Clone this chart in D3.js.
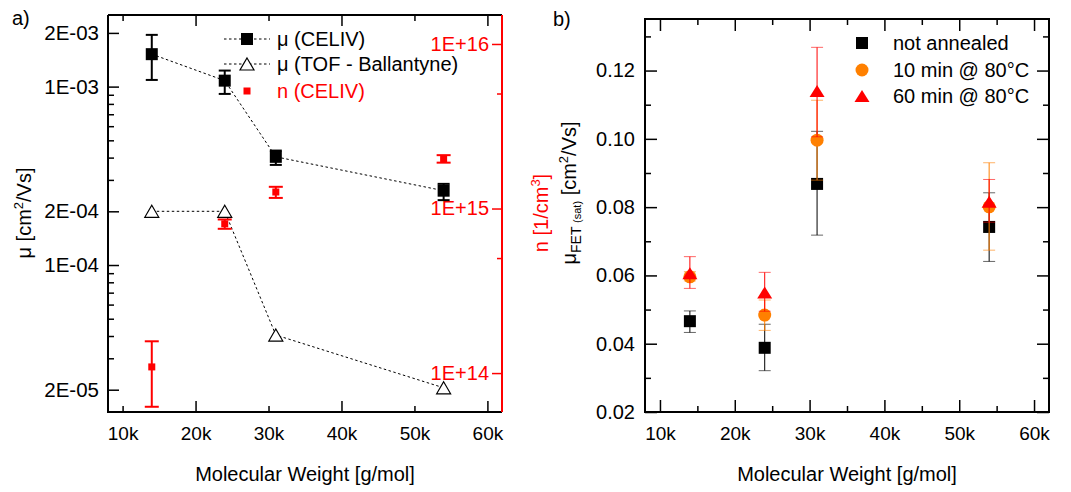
<!DOCTYPE html>
<html>
<head>
<meta charset="utf-8">
<script src="https://cdn.jsdelivr.net/npm/d3@7"></script>
<style>
  body { margin: 0; background: #fff; }
  svg { font-family: "Liberation Sans", Arial, sans-serif; }
</style>
</head>
<body>
<div id="chart"></div>
<script>
// ---- data ----
// panel a)
const mw = [14000, 24000, 31000, 54000];
const muCeliv   = [1.52e-3, 1.08e-3, 4.04e-4, 2.61e-4];
const muCelivLo = [1.09e-3, 9.1e-4, 3.64e-4, 2.31e-4];
const muCelivHi = [1.95e-3, 1.23e-3, 4.38e-4, 2.85e-4];
const muTof = [2.0e-4, 2.0e-4, 4.05e-5, 2.05e-5];
const nCeliv   = [1.09e14, 8.07e14, 1.26e15, 2.0e15];
const nCelivLo = [6.24e13, 7.53e14, 1.16e15, 1.9e15];
const nCelivHi = [1.56e14, 8.58e14, 1.355e15, 2.11e15];
const muTicks = [2e-5, 1e-4, 2e-4, 1e-3, 2e-3];
const muTickLabels = ["2E-05", "1E-04", "2E-04", "1E-03", "2E-03"];
const nTicks = [1e14, 1e15, 1e16];
const nTickLabels = ["1E+14", "1E+15", "1E+16"];
// panel b)
const fetNot   = [0.0466, 0.0388, 0.0868, 0.0742];
const fetNotLo = [0.0433, 0.0321, 0.0718, 0.0641];
const fetNotHi = [0.0496, 0.0457, 0.1022, 0.0842];
const fet10   = [0.0596, 0.0484, 0.0996, 0.0801];
const fet10Lo = [0.0584, 0.0439, 0.0879, 0.0674];
const fet10Hi = [0.0611, 0.0528, 0.1113, 0.0930];
const fet60   = [0.0606, 0.0550, 0.1140, 0.0816];
const fet60Lo = [0.0562, 0.0495, 0.1006, 0.0756];
const fet60Hi = [0.0655, 0.0609, 0.1268, 0.0881];
const fetTicks = [0.02, 0.04, 0.06, 0.08, 0.10, 0.12];
const mwTicks = [10000, 20000, 30000, 40000, 50000, 60000];
const mwTickLabels = ["10k", "20k", "30k", "40k", "50k", "60k"];

const RED = "#ff0000", ORANGE = "#ff8000";

const svg = d3.select("#chart").append("svg")
  .attr("width", 1071).attr("height", 492);

// helper: axis of tick marks only
function ticksOnly(g, axis) {
  g.call(axis);
  g.select(".domain").remove();
  g.selectAll("text").remove();
  return g;
}
function styleAxis(g, color, size) {
  g.select(".domain").remove();
  g.selectAll("line").attr("stroke", color).attr("stroke-width", 1.5);
  g.selectAll("text").attr("fill", color).style("font-size", size || "19px");
}

// ================= panel a) =================
const xA = d3.scaleLinear().domain([8000, 62000]).range([108, 502]);
const yMu = d3.scaleLog().domain([1.5e-5, 2.52e-3]).range([412, 15]);
const yN = d3.scaleLog().domain([5.8e13, 1.5e16]).range([412, 15]);
const top1 = 15, bot1 = 412;

// minor tick values for log axes
const muMinor = [];
[-5, -4, -3].forEach(e => { for (let k = 1; k < 10; k++) { const v = k * Math.pow(10, e); if (v >= 1.5e-5 && v <= 2.52e-3 && !muTicks.includes(+v.toPrecision(3))) muMinor.push(v); } });

// x axis bottom: labels + long ticks at 20/40/60k, short at 10/30/50k
const gxA = svg.append("g").attr("transform", `translate(0,${bot1})`)
  .call(d3.axisBottom(xA).tickValues(mwTicks).tickSize(0).tickPadding(15)
    .tickFormat((d, i) => mwTickLabels[i]));
styleAxis(gxA, "#000");
[[-11, [20000, 40000, 60000]], [-6, [10000, 30000, 50000]]].forEach(([s, v]) => {
  ticksOnly(svg.append("g").attr("transform", `translate(0,${bot1})`),
    d3.axisBottom(xA).tickValues(v).tickSize(s)).selectAll("line").attr("stroke-width", 1.5);
  ticksOnly(svg.append("g").attr("transform", `translate(0,${top1})`),
    d3.axisTop(xA).tickValues(v).tickSize(s)).selectAll("line").attr("stroke-width", 1.5);
});

// left y axis (mu)
const gyA = svg.append("g").attr("transform", "translate(108,0)")
  .call(d3.axisLeft(yMu).tickValues(muTicks).tickSize(-11).tickPadding(9)
    .tickFormat((d, i) => muTickLabels[i]));
styleAxis(gyA, "#000", "20.5px");
ticksOnly(svg.append("g").attr("transform", "translate(108,0)"),
  d3.axisLeft(yMu).tickValues(muMinor).tickSize(-6)).selectAll("line").attr("stroke-width", 1.5);

// right y axis (n), red
const gyN = svg.append("g").attr("transform", "translate(502,0)")
  .call(d3.axisRight(yN).tickValues(nTicks).tickSize(-10)
    .tickFormat((d, i) => nTickLabels[i]));
styleAxis(gyN, RED, "20px");
gyN.selectAll("text").attr("x", -13).attr("text-anchor", "end");
ticksOnly(svg.append("g").attr("transform", "translate(502,0)"),
  d3.axisRight(yN).tickValues([5e14, 5e15]).tickSize(-5)).selectAll("line").attr("stroke", RED).attr("stroke-width", 1.5);

// frame
svg.append("path").attr("d", `M108,${top1}H502`).attr("stroke", "#000").attr("stroke-width", 2).attr("fill", "none");
svg.append("path").attr("d", `M108,${top1}V${bot1}H502`).attr("stroke", "#000").attr("stroke-width", 2).attr("fill", "none");
svg.append("path").attr("d", `M502,${top1}V${bot1}`).attr("stroke", RED).attr("stroke-width", 2).attr("fill", "none");

// dotted connecting lines
const lineMu = d3.line().x((d, i) => xA(mw[i])).y(d => yMu(d));
svg.append("path").attr("d", lineMu(muCeliv)).attr("fill", "none")
  .attr("stroke", "#000").attr("stroke-width", 1).attr("stroke-dasharray", "2.5,2.5");
svg.append("path").attr("d", lineMu(muTof)).attr("fill", "none")
  .attr("stroke", "#000").attr("stroke-width", 1).attr("stroke-dasharray", "2.5,2.5");

function errorBars(g, xs, lo, hi, xScale, yScale, color, width, cap, capOpacity) {
  xs.forEach((xv, i) => {
    const x = xScale(xv), y1 = yScale(lo[i]), y2 = yScale(hi[i]);
    g.append("line").attr("x1", x).attr("x2", x).attr("y1", y1).attr("y2", y2)
      .attr("stroke", color).attr("stroke-width", width);
    [y1, y2].forEach(y => g.append("line").attr("x1", x - cap / 2).attr("x2", x + cap / 2)
      .attr("y1", y).attr("y2", y).attr("stroke", color).attr("stroke-width", width)
      .attr("stroke-opacity", capOpacity));
  });
}
function triPath(w, h) { return `M0,${-h / 2}L${w / 2},${h / 2}L${-w / 2},${h / 2}Z`; }

const gA = svg.append("g");
// n (CELIV) red
errorBars(gA, mw, nCelivLo, nCelivHi, xA, yN, RED, 2, 14, 1);
gA.selectAll(".nsq").data(nCeliv).enter().append("rect")
  .attr("x", (d, i) => xA(mw[i]) - 3.5).attr("y", d => yN(d) - 3.5)
  .attr("width", 7).attr("height", 7).attr("fill", RED);
// mu CELIV
errorBars(gA, mw, muCelivLo, muCelivHi, xA, yMu, "#000", 2, 12, 1);
gA.selectAll(".musq").data(muCeliv).enter().append("rect")
  .attr("x", (d, i) => xA(mw[i]) - 6).attr("y", d => yMu(d) - 6)
  .attr("width", 12).attr("height", 12).attr("fill", "#000");
// mu TOF
gA.selectAll(".tof").data(muTof).enter().append("path")
  .attr("d", triPath(14, 12))
  .attr("transform", (d, i) => `translate(${xA(mw[i])},${yMu(d)})`)
  .attr("fill", "#fff").attr("stroke", "#000").attr("stroke-width", 1.2);

// legend a)
const legA = svg.append("g").style("font-size", "20px");
[39, 64].forEach(y => legA.append("line").attr("x1", 224).attr("x2", 270).attr("y1", y).attr("y2", y)
  .attr("stroke", "#000").attr("stroke-dasharray", "2.5,2.5"));
legA.append("rect").attr("x", 241).attr("y", 33).attr("width", 12).attr("height", 12).attr("fill", "#000");
legA.append("path").attr("d", triPath(14, 12)).attr("transform", "translate(247,64)")
  .attr("fill", "#fff").attr("stroke", "#000").attr("stroke-width", 1.2);
legA.append("rect").attr("x", 243.5).attr("y", 87.5).attr("width", 7).attr("height", 7).attr("fill", RED);
legA.append("text").attr("x", 277).attr("y", 39).attr("dy", "0.35em").text("μ (CELIV)");
legA.append("text").attr("x", 277).attr("y", 64).attr("dy", "0.35em").text("μ (TOF - Ballantyne)");
legA.append("text").attr("x", 277).attr("y", 91).attr("dy", "0.35em").attr("fill", RED).text("n (CELIV)");

// titles a)
svg.append("text").attr("x", 12).attr("y", 25).style("font-size", "20px").text("a)");
svg.append("text").attr("x", 305).attr("y", 481).attr("text-anchor", "middle")
  .style("font-size", "20px").text("Molecular Weight [g/mol]");
const tMu = svg.append("text").attr("transform", "translate(31,213) rotate(-90)")
  .attr("text-anchor", "middle").style("font-size", "20px");
tMu.append("tspan").text("μ [cm");
tMu.append("tspan").attr("dy", -8).style("font-size", "13px").text("2");
tMu.append("tspan").attr("dy", 8).text("/Vs]");
const tN = svg.append("text").attr("transform", "translate(548,213) rotate(-90)")
  .attr("text-anchor", "middle").attr("fill", RED).style("font-size", "20px");
tN.append("tspan").text("n [1/cm");
tN.append("tspan").attr("dy", -8).style("font-size", "13px").text("3");
tN.append("tspan").attr("dy", 8).text("]");

// ================= panel b) =================
const xB = d3.scaleLinear().domain([8000, 62000]).range([645, 1049]);
const yB = d3.scaleLinear().domain([0.02, 0.1351]).range([412, 19]);
const top2 = 19, bot2 = 412;
const xMinorB = [15000, 25000, 35000, 45000, 55000];
const yMinorB = [0.03, 0.05, 0.07, 0.09, 0.11, 0.13];

const gxB = svg.append("g").attr("transform", `translate(0,${bot2})`)
  .call(d3.axisBottom(xB).tickValues(mwTicks).tickSize(-12).tickPadding(15)
    .tickFormat((d, i) => mwTickLabels[i]));
styleAxis(gxB, "#000");
ticksOnly(svg.append("g").attr("transform", `translate(0,${bot2})`),
  d3.axisBottom(xB).tickValues(xMinorB).tickSize(-6)).selectAll("line").attr("stroke-width", 1.5);
ticksOnly(svg.append("g").attr("transform", `translate(0,${top2})`),
  d3.axisTop(xB).tickValues(mwTicks).tickSize(-12)).selectAll("line").attr("stroke-width", 1.5);
ticksOnly(svg.append("g").attr("transform", `translate(0,${top2})`),
  d3.axisTop(xB).tickValues(xMinorB).tickSize(-6)).selectAll("line").attr("stroke-width", 1.5);

const gyB = svg.append("g").attr("transform", "translate(645,0)")
  .call(d3.axisLeft(yB).tickValues(fetTicks).tickSize(-12).tickPadding(10).tickFormat(d3.format(".2f")));
styleAxis(gyB, "#000", "20px");
ticksOnly(svg.append("g").attr("transform", "translate(645,0)"),
  d3.axisLeft(yB).tickValues(yMinorB).tickSize(-6)).selectAll("line").attr("stroke-width", 1.5);
ticksOnly(svg.append("g").attr("transform", "translate(1049,0)"),
  d3.axisRight(yB).tickValues(fetTicks).tickSize(-12)).selectAll("line").attr("stroke-width", 1.5);
ticksOnly(svg.append("g").attr("transform", "translate(1049,0)"),
  d3.axisRight(yB).tickValues(yMinorB).tickSize(-6)).selectAll("line").attr("stroke-width", 1.5);

svg.append("rect").attr("x", 645).attr("y", top2).attr("width", 1049 - 645).attr("height", bot2 - top2)
  .attr("fill", "none").attr("stroke", "#000").attr("stroke-width", 2);

const gB = svg.append("g");
errorBars(gB, mw, fetNotLo, fetNotHi, xB, yB, "#000", 1, 12, 0.6);
gB.selectAll(".bsq").data(fetNot).enter().append("rect")
  .attr("x", (d, i) => xB(mw[i]) - 6).attr("y", d => yB(d) - 6)
  .attr("width", 12).attr("height", 12).attr("fill", "#000");
errorBars(gB, mw, fet10Lo, fet10Hi, xB, yB, ORANGE, 1, 12, 0.6);
gB.selectAll(".bci").data(fet10).enter().append("circle")
  .attr("cx", (d, i) => xB(mw[i])).attr("cy", d => yB(d)).attr("r", 6.5).attr("fill", ORANGE);
errorBars(gB, mw, fet60Lo, fet60Hi, xB, yB, RED, 1, 12, 0.6);
gB.selectAll(".btr").data(fet60).enter().append("path")
  .attr("d", triPath(15, 12))
  .attr("transform", (d, i) => `translate(${xB(mw[i])},${yB(d)})`).attr("fill", RED);

// legend b)
const legB = svg.append("g").style("font-size", "20px");
legB.append("rect").attr("x", 856).attr("y", 37).attr("width", 12).attr("height", 12).attr("fill", "#000");
legB.append("circle").attr("cx", 862).attr("cy", 70).attr("r", 6.5).attr("fill", ORANGE);
legB.append("path").attr("d", triPath(15, 12)).attr("transform", "translate(862,96)").attr("fill", RED);
legB.append("text").attr("x", 893).attr("y", 43).attr("dy", "0.35em").text("not annealed");
legB.append("text").attr("x", 893).attr("y", 70).attr("dy", "0.35em").text("10 min @ 80°C");
legB.append("text").attr("x", 893).attr("y", 96).attr("dy", "0.35em").text("60 min @ 80°C");

svg.append("text").attr("x", 553).attr("y", 26).style("font-size", "20px").text("b)");
svg.append("text").attr("x", 847).attr("y", 481).attr("text-anchor", "middle")
  .style("font-size", "20px").text("Molecular Weight [g/mol]");
const tF = svg.append("text").attr("transform", "translate(576,193) rotate(-90)")
  .attr("text-anchor", "middle").style("font-size", "20px");
tF.append("tspan").text("μ");
tF.append("tspan").attr("dy", 5).style("font-size", "14px").text("FET ");
tF.append("tspan").style("font-size", "11px").text("(sat)");
tF.append("tspan").attr("dy", -5).text(" [cm");
tF.append("tspan").attr("dy", -8).style("font-size", "13px").text("2");
tF.append("tspan").attr("dy", 8).text("/Vs]");
</script>
</body>
</html>
